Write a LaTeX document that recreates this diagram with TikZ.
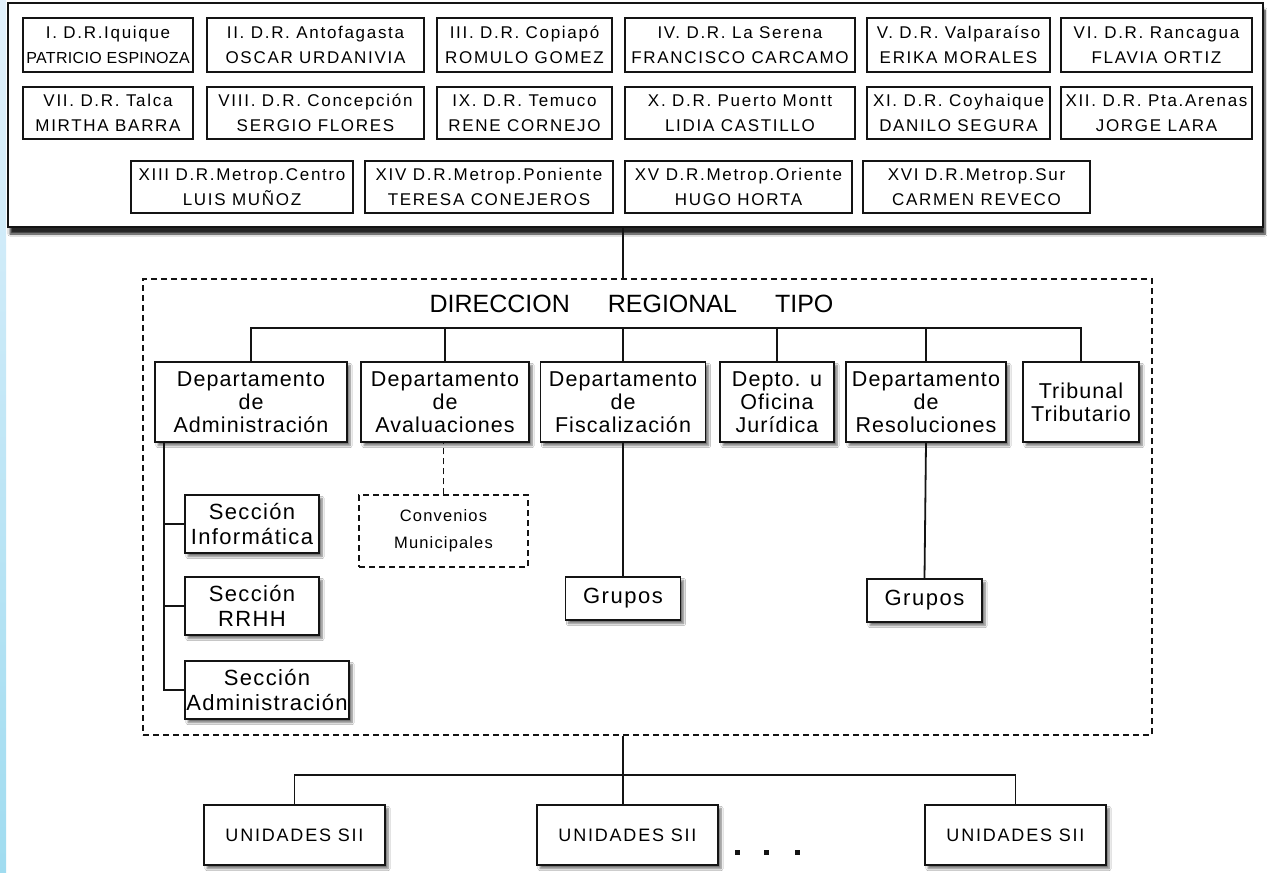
\documentclass[tikz,border=0pt]{standalone}
\usepackage{fontspec}
\setmainfont{Liberation Sans}
\newfontfamily\regfont[LetterSpace=10]{Liberation Sans}
\newfontfamily\patfont[LetterSpace=2]{Liberation Sans}
\newfontfamily\deptfont[LetterSpace=5]{Liberation Sans}
\newfontfamily\secfont[LetterSpace=6]{Liberation Sans}
\newfontfamily\unifont[LetterSpace=10]{Liberation Sans}
\newfontfamily\grpfont[LetterSpace=7]{Liberation Sans}
\usetikzlibrary{shadows.blur}
\definecolor{ln}{rgb}{0.08,0.08,0.08}
\tikzset{
  sh/.style={blur shadow={shadow xshift=3pt, shadow yshift=-3.5pt, shadow blur steps=6, shadow opacity=55}},
  regbox/.style={draw=ln, line width=1.3pt, fill=white, inner sep=0pt, align=center,
     font=\regfont\fontsize{17}{25}\selectfont},
  deptbox/.style={draw=ln, line width=1.6pt, fill=white, inner sep=0pt, align=center,
     font=\deptfont\fontsize{21.5}{23}\selectfont, sh},
  secbox/.style={draw=ln, line width=1.6pt, fill=white, inner sep=0pt, align=center,
     font=\secfont\fontsize{22}{25}\selectfont, sh},
  grpbox/.style={draw=ln, line width=1.6pt, fill=white, inner sep=0pt, align=center,
     font=\grpfont\fontsize{22}{25}\selectfont, sh, minimum width=115pt, minimum height=43pt},
  unibox/.style={draw=ln, line width=1.6pt, fill=white, inner sep=0pt, align=center,
     minimum width=181pt, minimum height=60pt, font=\unifont\fontsize{18}{20}\selectfont, sh},
  conn/.style={draw=ln, line width=1.8pt},
  dconn/.style={draw=ln, line width=1.5pt, dash pattern=on 6pt off 4pt},
}
\begin{document}
\begin{tikzpicture}[x=1pt,y=-1pt]
\useasboundingbox (0,0) rectangle (1267,873);
\fill[white] (0,0) rectangle (1267,873);
\shade[top color={rgb,255:red,226;green,241;blue,252}, bottom color={rgb,255:red,160;green,220;blue,240}] (0,0) rectangle (6,873);

% top container
\node[draw=ln, line width=1.8pt, fill=white, minimum width=1255pt, minimum height=224pt, inner sep=0pt,
  blur shadow={shadow xshift=2pt, shadow yshift=-7pt, shadow blur steps=7, shadow opacity=85}] (top) at (635.5,115) {};

% row 1
\node[regbox, minimum width=170pt, minimum height=54pt] (r1) at (108,45) {I. D.R.Iquique\\\patfont\fontsize{16}{25}\selectfont PATRICIO ESPINOZA};
\node[regbox, minimum width=217pt, minimum height=54pt] (r2) at (315.5,45) {II. D.R. Antofagasta\\OSCAR URDANIVIA};
\node[regbox, minimum width=175pt, minimum height=54pt] (r3) at (524.5,45) {III. D.R. Copiapó\\ROMULO GOMEZ};
\node[regbox, minimum width=230pt, minimum height=54pt] (r4) at (740,45) {IV. D.R. La Serena\\FRANCISCO CARCAMO};
\node[regbox, minimum width=183pt, minimum height=54pt] (r5) at (958.5,45) {V. D.R. Valparaíso\\ERIKA MORALES};
\node[regbox, minimum width=191pt, minimum height=54pt] (r6) at (1156.5,45) {VI. D.R. Rancagua\\FLAVIA ORTIZ};
% row 2
\node[regbox, minimum width=170pt, minimum height=52pt] (r7) at (108,113) {VII. D.R. Talca\\MIRTHA BARRA};
\node[regbox, minimum width=217pt, minimum height=52pt] (r8) at (315.5,113) {VIII. D.R. Concepción\\SERGIO FLORES};
\node[regbox, minimum width=175pt, minimum height=52pt] (r9) at (524.5,113) {IX. D.R. Temuco\\RENE CORNEJO};
\node[regbox, minimum width=230pt, minimum height=52pt] (r10) at (740,113) {X. D.R. Puerto Montt\\LIDIA CASTILLO};
\node[regbox, minimum width=183pt, minimum height=52pt] (r11) at (958.5,113) {XI. D.R. Coyhaique\\DANILO SEGURA};
\node[regbox, minimum width=191pt, minimum height=52pt] (r12) at (1156.5,113) {XII. D.R. Pta.Arenas\\JORGE LARA};
% row 3
\node[regbox, minimum width=222pt, minimum height=52pt] (r13) at (242,187) {XIII D.R.Metrop.Centro\\LUIS MUÑOZ};
\node[regbox, minimum width=248pt, minimum height=52pt] (r14) at (489,187) {XIV D.R.Metrop.Poniente\\TERESA CONEJEROS};
\node[regbox, minimum width=227pt, minimum height=52pt] (r15) at (738.5,187) {XV D.R.Metrop.Oriente\\HUGO HORTA};
\node[regbox, minimum width=227pt, minimum height=52pt] (r16) at (976.5,187) {XVI D.R.Metrop.Sur\\CARMEN REVECO};

% regional direction dashed frame
\node[dconn, minimum width=1009pt, minimum height=456pt, inner sep=0pt] (drt) at (647.5,507) {};
\node[font=\fontsize{25}{28}\selectfont, inner sep=0pt] (title) at (631.5,304) {DIRECCION\hspace{38pt}REGIONAL\hspace{38pt}TIPO};

\coordinate (cx) at (623,0);
\draw[conn] (top.south -| cx) -- (drt.north -| cx);

% departments
\node[deptbox, minimum width=192pt, minimum height=80pt] (adm) at (251,402) {Departamento\\de\\Administración};
\node[deptbox, minimum width=168pt, minimum height=80pt] (aval) at (445,402) {Departamento\\de\\Avaluaciones};
\node[deptbox, minimum width=165pt, minimum height=80pt] (fisc) at (623,402) {Departamento\\de\\Fiscalización};
\node[deptbox, minimum width=114pt, minimum height=80pt] (jur) at (777,402) {Depto. u\\Oficina\\Jurídica};
\node[deptbox, minimum width=160pt, minimum height=80pt] (res) at (926,402) {Departamento\\de\\Resoluciones};
\node[deptbox, minimum width=116pt, minimum height=80pt] (trib) at (1081,402) {Tribunal\\Tributario};

\coordinate (bus) at (623,328);
\draw[conn] (adm.north) |- (bus) -| (trib.north);
\draw[conn] (aval.north) -- (aval.north |- bus);
\draw[conn] (fisc.north) -- (fisc.north |- bus);
\draw[conn] (jur.north) -- (jur.north |- bus);
\draw[conn] (res.north) -- (res.north |- bus);

% sections
\node[secbox, minimum width=134pt, minimum height=58pt] (sinf) at (252,524) {Sección\\Informática};
\node[secbox, minimum width=134pt, minimum height=58pt] (srh) at (252,606) {Sección\\RRHH};
\node[secbox, minimum width=164pt, minimum height=58pt] (sadm) at (267,690) {Sección\\Administración};
\coordinate (spine) at (164,0);
\draw[conn] (adm.south -| spine) |- (sadm.west);
\draw[conn] (spine |- sinf.west) -- (sinf.west);
\draw[conn] (spine |- srh.west) -- (srh.west);

\node[dconn, minimum width=169pt, minimum height=72pt, inner sep=0pt, align=center,
  font=\grpfont\fontsize{16.5}{27}\selectfont] (conv) at (443.5,531) {Convenios\\Municipales};
\draw[dconn] (conv.north) -- (conv.north |- aval.south);

\node[grpbox] (g1) at (623,598.5) {Grupos};
\node[grpbox] (g2) at (924.5,600.5) {Grupos};
\draw[conn] (fisc.south) -- (g1.north);
\draw[conn] (res.south) -- (g2.north);

% units
\node[unibox] (u1) at (294.5,835) {UNIDADES SII};
\node[unibox] (u2) at (627.5,835) {UNIDADES SII};
\node[unibox] (u3) at (1015.5,835) {UNIDADES SII};
\coordinate (ubus) at (623,775);
\draw[conn] (drt.south -| cx) -- (u2.north -| cx);
\draw[conn] (u1.north) |- (ubus) -| (u3.north);

\fill[ln] (734.5,849.5) rectangle ++(5,5);
\fill[ln] (763.5,849.5) rectangle ++(5,5);
\fill[ln] (794.5,849.5) rectangle ++(5,5);
\end{tikzpicture}
\end{document}
